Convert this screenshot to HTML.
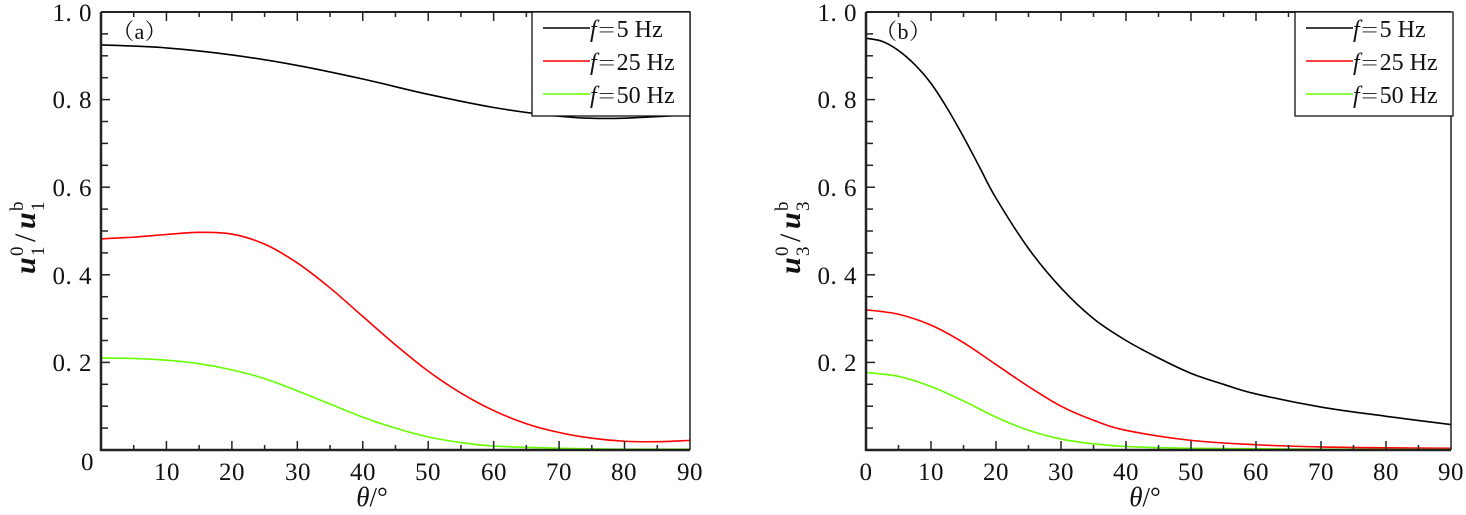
<!DOCTYPE html>
<html><head><meta charset="utf-8"><style>
html,body{margin:0;padding:0;background:#fff;}
svg text{font-family:"Liberation Serif","Noto Serif CJK SC",serif;fill:#111;}
</style></head><body>
<svg id="s" width="1466" height="510" xmlns="http://www.w3.org/2000/svg">
<g id="ga"></g><g id="gb"></g>
<g font-size="25" letter-spacing="0.5">
<text x="92" y="21" text-anchor="end">1. 0</text>
<text x="92" y="108" text-anchor="end">0. 8</text>
<text x="92" y="196" text-anchor="end">0. 6</text>
<text x="92" y="284" text-anchor="end">0. 4</text>
<text x="92" y="371" text-anchor="end">0. 2</text>
<text x="94" y="470" text-anchor="end">0</text>
<text x="167" y="480" text-anchor="middle">10</text>
<text x="232" y="480" text-anchor="middle">20</text>
<text x="298" y="480" text-anchor="middle">30</text>
<text x="363" y="480" text-anchor="middle">40</text>
<text x="428" y="480" text-anchor="middle">50</text>
<text x="494" y="480" text-anchor="middle">60</text>
<text x="559" y="480" text-anchor="middle">70</text>
<text x="624" y="480" text-anchor="middle">80</text>
<text x="690" y="480" text-anchor="middle">90</text>
<text x="112" y="39" font-family="Noto Serif CJK SC, serif" font-size="22">（a）</text>
</g>
<text x="372" y="506" font-size="27" text-anchor="middle"><tspan font-style="italic">θ</tspan>/°</text>
<g transform="translate(35,232) rotate(-90)" font-size="30">
<text x="-42" y="0" font-style="italic" font-weight="bold">u</text>
<text x="-24" y="-12" font-size="19">0</text>
<text x="-24" y="9" font-size="19">1</text>
<text x="-10" y="0">/</text>
<text x="3" y="0" font-style="italic" font-weight="bold">u</text>
<text x="21" y="-12" font-size="19">b</text>
<text x="21" y="9" font-size="19">1</text>
</g>
<rect x="532" y="12" width="158" height="104" fill="#fff" stroke="#111" stroke-width="1.3"/>
<line x1="543" y1="28" x2="590" y2="28" stroke="#000" stroke-width="1.5"/>
<line x1="543" y1="61" x2="590" y2="61" stroke="#f00" stroke-width="1.5"/>
<line x1="543" y1="94" x2="590" y2="94" stroke="#6f0" stroke-width="1.5"/>
<g font-size="24">
<text x="590" y="37"><tspan font-style="italic">f</tspan><tspan font-family="Noto Serif CJK SC, serif" font-size="20">＝</tspan>5 Hz</text>
<text x="590" y="70"><tspan font-style="italic">f</tspan><tspan font-family="Noto Serif CJK SC, serif" font-size="20">＝</tspan>25 Hz</text>
<text x="590" y="103"><tspan font-style="italic">f</tspan><tspan font-family="Noto Serif CJK SC, serif" font-size="20">＝</tspan>50 Hz</text>
</g>
<g font-size="25" letter-spacing="0.5">
<text x="857" y="21" text-anchor="end">1. 0</text>
<text x="857" y="108" text-anchor="end">0. 8</text>
<text x="857" y="196" text-anchor="end">0. 6</text>
<text x="857" y="284" text-anchor="end">0. 4</text>
<text x="857" y="371" text-anchor="end">0. 2</text>
<text x="866" y="480" text-anchor="middle">0</text>
<text x="931" y="480" text-anchor="middle">10</text>
<text x="996" y="480" text-anchor="middle">20</text>
<text x="1061" y="480" text-anchor="middle">30</text>
<text x="1126" y="480" text-anchor="middle">40</text>
<text x="1191" y="480" text-anchor="middle">50</text>
<text x="1256" y="480" text-anchor="middle">60</text>
<text x="1321" y="480" text-anchor="middle">70</text>
<text x="1386" y="480" text-anchor="middle">80</text>
<text x="1451" y="480" text-anchor="middle">90</text>
<text x="875" y="39" font-family="Noto Serif CJK SC, serif" font-size="22">（b）</text>
</g>
<text x="1145" y="506" font-size="27" text-anchor="middle"><tspan font-style="italic">θ</tspan>/°</text>
<g transform="translate(800,232) rotate(-90)" font-size="30">
<text x="-42" y="0" font-style="italic" font-weight="bold">u</text>
<text x="-24" y="-12" font-size="19">0</text>
<text x="-24" y="9" font-size="19">3</text>
<text x="-10" y="0">/</text>
<text x="3" y="0" font-style="italic" font-weight="bold">u</text>
<text x="21" y="-12" font-size="19">b</text>
<text x="21" y="9" font-size="19">3</text>
</g>
<rect x="1295" y="12" width="158" height="104" fill="#fff" stroke="#111" stroke-width="1.3"/>
<line x1="1306" y1="28" x2="1353" y2="28" stroke="#000" stroke-width="1.5"/>
<line x1="1306" y1="61" x2="1353" y2="61" stroke="#f00" stroke-width="1.5"/>
<line x1="1306" y1="94" x2="1353" y2="94" stroke="#6f0" stroke-width="1.5"/>
<g font-size="24">
<text x="1353" y="37"><tspan font-style="italic">f</tspan><tspan font-family="Noto Serif CJK SC, serif" font-size="20">＝</tspan>5 Hz</text>
<text x="1353" y="70"><tspan font-style="italic">f</tspan><tspan font-family="Noto Serif CJK SC, serif" font-size="20">＝</tspan>25 Hz</text>
<text x="1353" y="103"><tspan font-style="italic">f</tspan><tspan font-family="Noto Serif CJK SC, serif" font-size="20">＝</tspan>50 Hz</text>
</g>
</svg>
<script>
const NS="http://www.w3.org/2000/svg";
function el(g,t,a){const e=document.createElementNS(NS,t);for(const k in a)e.setAttribute(k,a[k]);g.appendChild(e);return e;}
function panel(gid,x0,sx,curves){
 const g=document.getElementById(gid);
 const X=t=>x0+t*sx, Y=v=>450-v*438;
 curves.forEach(([col,pts])=>{
  let P=pts.map(p=>[X(p[0]),Y(p[1])]);
  let d="M"+P[0][0]+","+P[0][1];
  for(let i=0;i<P.length-1;i++){
   const p0=P[Math.max(i-1,0)],p1=P[i],p2=P[i+1],p3=P[Math.min(i+2,P.length-1)];
   d+=" C"+(p1[0]+(p2[0]-p0[0])/6)+","+(p1[1]+(p2[1]-p0[1])/6)+" "+(p2[0]-(p3[0]-p1[0])/6)+","+(p2[1]-(p3[1]-p1[1])/6)+" "+p2[0]+","+p2[1];
  }
  el(g,"path",{d:d,fill:"none",stroke:col,"stroke-width":1.6});
 });
 const xr=X(90);
 el(g,"line",{x1:x0,y1:12,x2:x0,y2:451,stroke:"#222","stroke-width":2.5});
 el(g,"line",{x1:x0-1,y1:450,x2:xr,y2:450,stroke:"#222","stroke-width":2.5});
 el(g,"line",{x1:x0,y1:12,x2:xr,y2:12,stroke:"#222","stroke-width":2});
 el(g,"line",{x1:xr,y1:12,x2:xr,y2:450,stroke:"#222","stroke-width":1.5});
 for(let t=5;t<90;t+=5){const L=t%10?5:9;
  el(g,"line",{x1:X(t),y1:450,x2:X(t),y2:450-L,stroke:"#222","stroke-width":1.5});
  el(g,"line",{x1:X(t),y1:12,x2:X(t),y2:12+L,stroke:"#222","stroke-width":1.5});}
 for(let i=1;i<20;i++){const v=i*0.05;
  el(g,"line",{x1:x0,y1:Y(v),x2:x0+(i%4==0?9:7),y2:Y(v),stroke:"#222","stroke-width":1.5});}
}
panel("ga",101,6.544,[
 ["#000",[[0,.925],[10,.918],[20,.902],[30,.878],[40,.847],[50,.812],[60,.782],[70,.762],[78,.757],[90,.765]]],
 ["#f00",[[0,.482],[5,.486],[10,.492],[15,.497],[20,.493],[25,.47],[30,.427],[35,.37],[40,.305],[45,.24],[50,.18],[55,.13],[60,.09],[65,.06],[70,.04],[75,.027],[80,.02],[85,.019],[90,.022]]],
 ["#6f0",[[0,.21],[5,.209],[10,.205],[15,.197],[20,.183],[25,.163],[30,.135],[35,.105],[40,.075],[45,.05],[50,.03],[55,.017],[60,.009],[70,.004],[80,.002],[90,.002]]]
]);
panel("gb",866,6.5,[
 ["#000",[[0,.94],[2.5,.933],[5,.912],[7.5,.88],[10,.837],[12.5,.78],[15,.715],[17.5,.645],[20,.575],[25,.46],[30,.37],[35,.30],[40,.25],[45,.21],[50,.175],[55,.15],[60,.128],[70,.098],[80,.077],[90,.058]]],
 ["#f00",[[0,.32],[5,.31],[10,.285],[15,.245],[20,.195],[25,.145],[30,.1],[35,.068],[40,.045],[50,.022],[60,.012],[70,.007],[80,.005],[90,.004]]],
 ["#6f0",[[0,.177],[5,.168],[10,.145],[15,.112],[20,.075],[25,.045],[30,.025],[35,.014],[40,.008],[50,.004],[70,.002],[90,.001]]]
]);
</script>
</body></html>
